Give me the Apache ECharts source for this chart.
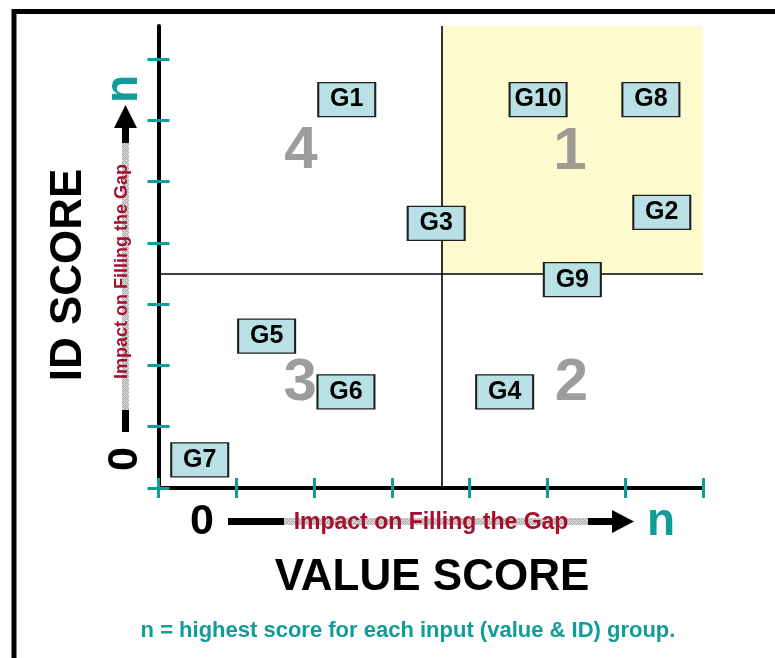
<!DOCTYPE html>
<html>
<head>
<meta charset="utf-8">
<script src="https://cdn.jsdelivr.net/npm/echarts@6/dist/echarts.min.js"></script>
<style>
html,body{margin:0;padding:0;background:#fff;}
#chart{width:775px;height:658px;}
</style>
</head>
<body>
<div id="chart"></div>
<script>
// ---- data ----
const groups = ['G1', 'G2', 'G3', 'G4', 'G5', 'G6', 'G7', 'G8', 'G9', 'G10'];
const valueScores = [2.42, 6.47, 3.57, 4.45, 1.39, 2.41, 0.53, 6.33, 5.32, 4.88];
const idScores = [6.34, 4.50, 4.32, 1.57, 2.48, 1.57, 0.46, 6.34, 3.40, 6.34];
const quadrantLabels = ['1', '2', '3', '4'];
const quadrantX = [5.29, 5.31, 1.82, 1.83];
const quadrantY = [5.48, 1.71, 1.71, 5.50];
const valueCutoff = 3.644;
const idCutoff = 3.49;
const xTickValues = [0, 1, 2, 3, 4, 5, 6, 7];
const yTickValues = [0, 1, 2, 3, 4, 5, 6, 7];
const xMax = 7;
const yMax = 7.54;
const xAxisTitle = 'VALUE SCORE';
const yAxisTitle = 'ID SCORE';
const arrowText = 'Impact on Filling the Gap';
const footnote = 'n = highest score for each input (value & ID) group.';

// ---- styles ----
const FONT = "'Liberation Sans', Arial, sans-serif";
const TEAL = '#0e9d98';
const CRIMSON = '#a50f2d';

function makePattern(bg, fg) {
  const c = document.createElement('canvas');
  c.width = 4; c.height = 4;
  const ctx = c.getContext('2d');
  ctx.fillStyle = bg; ctx.fillRect(0, 0, 4, 4);
  ctx.fillStyle = fg;
  ctx.fillRect(0, 0, 1, 1); ctx.fillRect(2, 2, 1, 1);
  ctx.fillRect(1, 1, 1, 1); ctx.fillRect(3, 3, 1, 1);
  ctx.fillRect(3, 1, 1, 1); ctx.fillRect(1, 3, 1, 1);
  return c;
}
const yellowPattern = makePattern('#ffffde', '#faf5b4');
const grayPattern = makePattern('#d6d6d6', '#a8a8a8');

const chart = echarts.init(document.getElementById('chart'), null, {renderer: 'canvas'});

const baseX = {type: 'value', min: 0, max: xMax, interval: 1, position: 'bottom',
  axisLabel: {show: false}, splitLine: {show: false}};
const baseY = {type: 'value', min: 0, max: yMax, interval: 1, position: 'left',
  axisLabel: {show: false}, splitLine: {show: false}};

const option = {
  animation: false,
  grid: {left: 158.5, right: 72, top: 26, bottom: 170, containLabel: false},
  xAxis: [
    Object.assign({}, baseX, {
      axisLine: {show: true, lineStyle: {color: '#000', width: 4}},
      axisTick: {show: true, inside: true, length: 10, lineStyle: {color: TEAL, width: 3}, customValues: xTickValues}
    }),
    Object.assign({}, baseX, {
      axisLine: {show: false},
      axisTick: {show: true, inside: false, length: 10, lineStyle: {color: TEAL, width: 3}, customValues: xTickValues}
    })
  ],
  yAxis: [
    Object.assign({}, baseY, {
      axisLine: {show: true, lineStyle: {color: '#000', width: 4}},
      axisTick: {show: true, inside: true, length: 11, lineStyle: {color: TEAL, width: 3}, customValues: yTickValues}
    }),
    Object.assign({}, baseY, {
      axisLine: {show: false},
      axisTick: {show: true, inside: false, length: 11, lineStyle: {color: TEAL, width: 3}, customValues: yTickValues}
    })
  ],
  series: [
    {
      type: 'scatter', data: [], z: 1, silent: true,
      markArea: {
        silent: true,
        itemStyle: {color: {image: yellowPattern, repeat: 'repeat'}},
        data: [[{xAxis: valueCutoff, yAxis: idCutoff}, {xAxis: xMax, yAxis: yMax}]]
      },
      markLine: {
        silent: true, symbol: 'none', label: {show: false},
        lineStyle: {color: '#000', width: 1.6, type: 'solid'},
        data: [{xAxis: valueCutoff}, {yAxis: idCutoff}]
      }
    },
    {
      type: 'scatter', z: 3, silent: true,
      symbolSize: 0,
      data: quadrantLabels.map((t, i) => ({name: t, value: [quadrantX[i], quadrantY[i]]})),
      label: {show: true, position: 'inside', formatter: '{b}', color: '#858585',
        fontFamily: FONT, fontWeight: 'bold', fontSize: 60}
    },
    {
      type: 'scatter', z: 5, silent: true,
      symbol: 'rect', symbolSize: [57, 34],
      itemStyle: {color: '#b9e0e4', borderColor: '#1e1e1e', borderWidth: 1.6, opacity: 1},
      data: groups.map((g, i) => ({name: g, value: [valueScores[i], idScores[i]]})),
      label: {show: true, position: 'inside', formatter: '{b}', color: '#000',
        fontFamily: FONT, fontWeight: 'bold', fontSize: 25}
    }
  ],
  graphic: [
    // frame
    {type: 'rect', shape: {x: 14, y: 11.5, width: 800, height: 700}, style: {fill: 'none', stroke: '#000', lineWidth: 5}},
    // x arrow row
    {type: 'text', style: {x: 202, y: 522.5, text: '0', font: 'bold 43px ' + FONT, fill: '#000', align: 'center', verticalAlign: 'middle'}},
    {type: 'rect', shape: {x: 228, y: 518, width: 56, height: 7}, style: {fill: '#000'}},
    {type: 'rect', shape: {x: 284, y: 518, width: 305, height: 7}, style: {fill: {image: grayPattern, repeat: 'repeat'}}},
    {type: 'rect', shape: {x: 588, y: 518, width: 25, height: 7}, style: {fill: '#000'}},
    {type: 'polygon', shape: {points: [[612, 510], [634, 521.5], [612, 533]]}, style: {fill: '#000'}},
    {type: 'text', style: {x: 431, y: 522.5, text: arrowText, font: 'bold 23px ' + FONT, fill: CRIMSON, align: 'center', verticalAlign: 'middle'}},
    {type: 'text', style: {x: 661, y: 522, text: 'n', font: 'bold 46px ' + FONT, fill: TEAL, align: 'center', verticalAlign: 'middle'}},
    // x title
    {type: 'text', style: {x: 432, y: 578, text: xAxisTitle, font: 'bold 44px ' + FONT, fill: '#000', align: 'center', verticalAlign: 'middle'}},
    // footnote
    {type: 'text', style: {x: 408, y: 631, text: footnote, font: 'bold 22px ' + FONT, fill: TEAL, align: 'center', verticalAlign: 'middle'}},
    // y title
    {type: 'text', x: 69, y: 275, rotation: Math.PI / 2, style: {x: 0, y: 0, text: yAxisTitle, font: 'bold 44px ' + FONT, fill: '#000', align: 'center', verticalAlign: 'middle'}},
    // y arrow column
    {type: 'text', x: 125, y: 459, rotation: Math.PI / 2, style: {x: 0, y: 0, text: '0', font: 'bold 43px ' + FONT, fill: '#000', align: 'center', verticalAlign: 'middle'}},
    {type: 'rect', shape: {x: 122, y: 410, width: 7, height: 22}, style: {fill: '#000'}},
    {type: 'rect', shape: {x: 122, y: 142, width: 7, height: 268}, style: {fill: {image: grayPattern, repeat: 'repeat'}}},
    {type: 'rect', shape: {x: 122, y: 127, width: 7, height: 16}, style: {fill: '#000'}},
    {type: 'polygon', shape: {points: [[114, 128], [125.5, 105], [137, 128]]}, style: {fill: '#000'}},
    {type: 'text', x: 122, y: 271.5, rotation: Math.PI / 2, style: {x: 0, y: 0, text: arrowText, font: 'bold 18px ' + FONT, fill: CRIMSON, align: 'center', verticalAlign: 'middle'}},
    {type: 'text', x: 124, y: 89, rotation: Math.PI / 2, style: {x: 0, y: 0, text: 'n', font: 'bold 46px ' + FONT, fill: TEAL, align: 'center', verticalAlign: 'middle'}}
  ]
};
chart.setOption(option);
</script>
</body>
</html>
